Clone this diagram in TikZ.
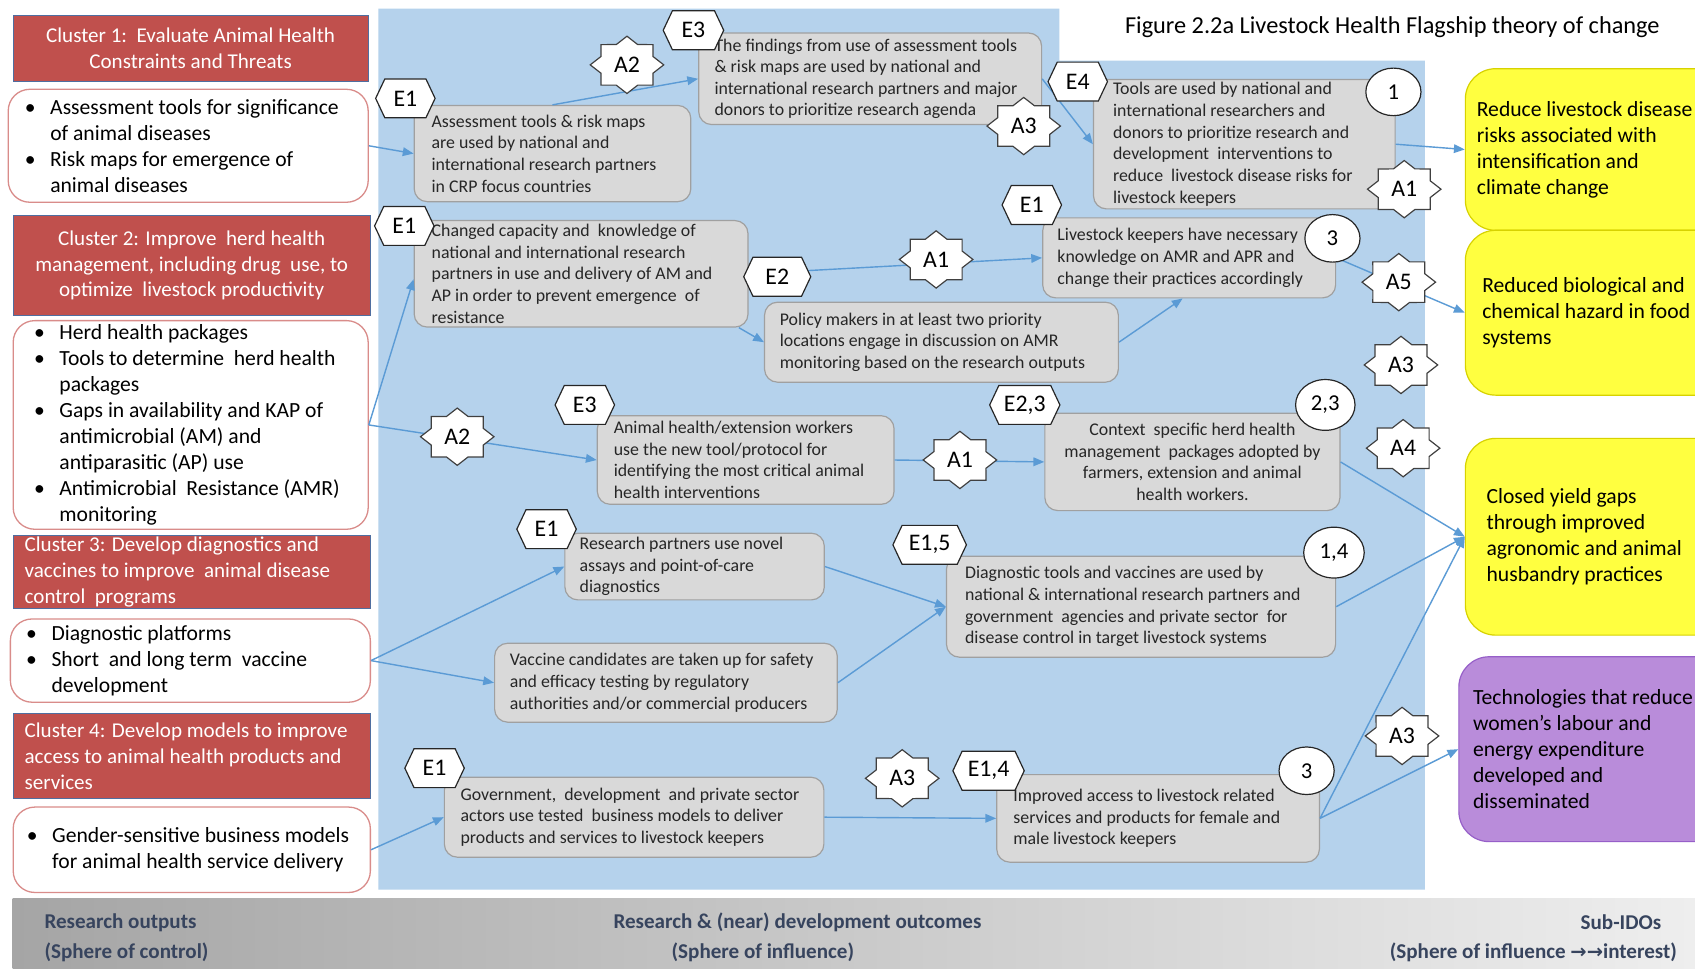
\documentclass[tikz,border=0pt]{standalone}
\usepackage{fontspec}
\setmainfont{Carlito}
\newfontfamily\djvfont{DejaVu Sans}
\usetikzlibrary{arrows.meta,shapes.geometric}

\definecolor{bluebg}{RGB}{181,210,236}
\definecolor{redhdr}{RGB}{192,80,77}
\definecolor{hdrborder}{RGB}{79,110,160}
\definecolor{pinkborder}{RGB}{217,140,138}
\definecolor{grayfill}{RGB}{217,217,217}
\definecolor{grayborder}{RGB}{160,160,160}
\definecolor{yell}{RGB}{255,255,64}
\definecolor{yellborder}{RGB}{215,210,0}
\definecolor{purp}{RGB}{185,140,218}
\definecolor{purpborder}{RGB}{150,95,200}
\definecolor{arrowblue}{RGB}{91,155,213}
\definecolor{bandtext}{RGB}{55,68,94}
\definecolor{bandA}{RGB}{165,165,165}
\definecolor{bandB}{RGB}{238,238,238}

% box with left-aligned text: style, name, x0, y0, x1, y1, text style, text offset, text
\newcommand\BoxL[9]{%
  \node[#1, anchor=north west, minimum width={(#5)-(#3)}, minimum height={(#6)-(#4)}] (#2) at (#3,#4) {};
  \node[#7, anchor=west] (#2t) at ([xshift=#8]#2.west) {#9};}
% box with centred text: style, name, x0, y0, x1, y1, text style, text
\newcommand\BoxC[8]{%
  \node[#1, anchor=north west, minimum width={(#5)-(#3)}, minimum height={(#6)-(#4)}] (#2) at (#3,#4) {};
  \node[#7] (#2t) at (#2.center) {#8};}
% hexagon label: name, x, y, width, text
\newcommand\EHex[5]{%
  \path[hexsty] ({#2-#4/2},#3) -- ++(8.5,-18) -- ++({#4-17},0) -- ++(8.5,18) -- ++(-8.5,18) -- ++({17-#4},0) -- cycle;
  \node[labtext] (#1) at (#2,#3) {#5};}
% star label: name, x, y, text
\newcommand\AStar[4]{%
  \begin{scope}[shift={(#2,#3)}]
  \path[starsty] (0:34pt and 26.5pt) -- (22.5:26pt and 20.3pt) -- (45:34pt and 26.5pt) -- (67.5:26pt and 20.3pt)
   -- (90:34pt and 26.5pt) -- (112.5:26pt and 20.3pt) -- (135:34pt and 26.5pt) -- (157.5:26pt and 20.3pt)
   -- (180:34pt and 26.5pt) -- (202.5:26pt and 20.3pt) -- (225:34pt and 26.5pt) -- (247.5:26pt and 20.3pt)
   -- (270:34pt and 26.5pt) -- (292.5:26pt and 20.3pt) -- (315:34pt and 26.5pt) -- (337.5:26pt and 20.3pt) -- cycle;
  \end{scope}
  \node[labtext] (#1) at (#2,#3) {#4};}
\newcommand\BulI{\makebox[23.5pt][l]{\textbullet}}
\newcommand\BulC{\hspace*{23.5pt}}

\begin{document}
\begin{tikzpicture}[x=1pt,y=-1pt,
  hdr/.style={fill=redhdr, draw=hdrborder, line width=1pt, inner sep=0},
  wbox/.style={fill=white, draw=pinkborder, line width=1.2pt, rounded corners=20pt, inner sep=0},
  gboxsty/.style={fill=grayfill, draw=grayborder, line width=1.1pt, rounded corners=12pt, inner sep=0},
  ybox/.style={fill=yell, draw=yellborder, line width=1.1pt, rounded corners=28pt, inner sep=0},
  pbox/.style={fill=purp, draw=purpborder, line width=1.1pt, rounded corners=28pt, inner sep=0},
  hdrtext/.style={inner sep=0, align=center, text=white, font=\fontsize{19.5}{24}\selectfont},
  hdrtextl/.style={inner sep=0, align=left, text=white, font=\fontsize{19.5}{24}\selectfont},
  btext/.style={inner sep=0, align=left, text=black, font=\fontsize{20}{24}\selectfont},
  gtext/.style={inner sep=0, align=left, text=black!85, font=\fontsize{16.5}{20}\selectfont},
  gtextc/.style={gtext, align=center},
  labtext/.style={inner sep=0, text=black, font=\fontsize{22}{24}\selectfont},
  hexsty/.style={fill=white, draw=black!85, line width=1.1pt, line join=miter},
  starsty/.style={fill=white, draw=black!75, line width=1.1pt},
  circ/.style={ellipse, fill=white, draw=black!85, line width=1.1pt, minimum width=51pt, minimum height=44pt, inner sep=0, font=\fontsize{21}{24}\selectfont},
  conn/.style={draw=arrowblue, line width=1.3pt, -{Triangle[length=10pt,width=8pt]}},
  bandtxt/.style={inner sep=0, text=bandtext, font=\bfseries\fontsize{19.5}{24}\selectfont}
]
\useasboundingbox (0,0) rectangle (1568,896);
\fill[white] (0,0) rectangle (1568,896);

% backgrounds
\fill[bluebg] (350,8) -- (980,8) -- (980,56) -- (1318,56) -- (1318,823) -- (350,823) -- cycle;
\shade[left color=bandA, right color=bandB] (11.6,831) rectangle (1568,896);

% title
\node[inner sep=0, font=\fontsize{22.5}{26}\selectfont] (title) at (1288,25) {Figure 2.2a Livestock Health Flagship theory of change};

% bottom band texts
\node[bandtxt, anchor=west] (ro1) at (41,853.5) {Research outputs};
\node[bandtxt, anchor=west] (ro2) at (41,881) {(Sphere of control)};
\node[bandtxt] (rd1) at (737.7,853.5) {Research \& (near) development outcomes};
\node[bandtxt] (rd2) at (705.7,881) {(Sphere of influence)};
\node[bandtxt, anchor=east] (si1) at (1537,853.5) {Sub-IDOs};
\node[bandtxt, anchor=east] (si2) at (1551.5,881) {(Sphere of influence {\djvfont\bfseries\fontsize{18}{20}\selectfont →→}interest)};

% left column
\BoxC{hdr}{h1}{11.6}{14}{340}{74.6}{hdrtext}{Cluster 1:\ \ Evaluate Animal Health\\Constraints and Threats}
\BoxL{wbox}{b1}{7}{82}{340}{186.5}{btext}{15.8}{\BulI Assessment tools for significance\\\BulC of animal diseases\\\BulI Risk maps for emergence of\\\BulC animal diseases}
\BoxC{hdr}{h2}{11.6}{199}{342}{291}{hdrtext}{Cluster 2: Improve\ \ herd health\\management, including drug\ \ use, to\\optimize\ \ livestock productivity}
\BoxL{wbox}{b2}{11.6}{296}{340}{489}{btext}{19.7}{\BulI Herd health packages\\\BulI Tools to determine\ \ herd health\\\BulC packages\\\BulI Gaps in availability and KAP of\\\BulC antimicrobial (AM) and\\\BulC antiparasitic (AP) use\\\BulI Antimicrobial\ \ Resistance (AMR)\\\BulC monitoring}
\BoxL{hdr}{h3}{11.6}{495}{342}{562}{hdrtextl}{11}{Cluster 3: Develop diagnostics and\\vaccines to improve\ \ animal disease\\control\ \ programs}
\BoxL{wbox}{b3}{9}{572}{342}{649}{btext}{15}{\BulI Diagnostic platforms\\\BulI Short\ \ and long term\ \ vaccine\\\BulC development}
\BoxL{hdr}{h4}{11.6}{659.7}{342}{738}{hdrtextl}{11}{Cluster 4: Develop models to improve\\access to animal health products and\\services}
\BoxL{wbox}{b4}{11.6}{746}{342}{825}{btext}{13}{\BulI Gender-sensitive business models\\\BulC for animal health service delivery}

% outcome boxes
\BoxL{gboxsty}{g1}{382.6}{97}{638.5}{186}{gtext}{16.5}{Assessment tools \& risk maps\\are used by national and\\international research partners\\in CRP focus countries}
\BoxL{gboxsty}{g2}{645.8}{30}{963}{114.7}{gtext}{15}{The findings from use of assessment tools\\\& risk maps are used by national and\\international research partners and major\\donors to prioritize research agenda}
\BoxL{gboxsty}{g3}{1011}{73}{1290}{192.7}{gtext}{18.5}{Tools are used by national and\\international researchers and\\donors to prioritize research and\\development\ \ interventions to\\reduce\ \ livestock disease risks for\\livestock keepers}
\BoxL{gboxsty}{g4}{382.6}{203.5}{691.4}{302}{gtext}{16.5}{Changed capacity and\ \ knowledge of\\national and international research\\partners in use and delivery of AM and\\AP in order to prevent emergence\ \ of\\resistance}
\BoxL{gboxsty}{g6}{964}{201}{1235}{275}{gtext}{14}{Livestock keepers have necessary\\knowledge on AMR and APR and\\change their practices accordingly}
\BoxL{gboxsty}{g7}{706.7}{279}{1034}{353}{gtext}{14.5}{Policy makers in at least two priority\\locations engage in discussion on AMR\\monitoring based on the research outputs}
\BoxL{gboxsty}{g5}{552}{384}{826.5}{466}{gtext}{15.6}{Animal health/extension workers\\use the new tool/protocol for\\identifying the most critical animal\\health interventions}
\BoxC{gboxsty}{g8}{966}{381.7}{1239}{471.8}{gtextc}{Context\ \ specific herd health\\management\ \ packages adopted by\\farmers, extension and animal\\health workers.}
\BoxL{gboxsty}{g9}{522}{492.7}{762}{554.4}{gtext}{14}{Research partners use novel\\assays and point-of-care\\diagnostics}
\BoxL{gboxsty}{g11}{875}{514}{1235}{607.4}{gtext}{17.6}{Diagnostic tools and vaccines are used by\\national \& international research partners and\\government\ \ agencies and private sector\ \ for\\disease control in target livestock systems}
\BoxL{gboxsty}{g10}{457}{594.5}{774}{667.5}{gtext}{14.4}{Vaccine candidates are taken up for safety\\and efficacy testing by regulatory\\authorities and/or commercial producers}
\BoxL{gboxsty}{g12}{410.5}{718.4}{761.6}{792.4}{gtext}{15.4}{Government,\ \ development\ \ and private sector\\actors use tested\ \ business models to deliver\\products and services to livestock keepers}
\BoxL{gboxsty}{g13}{921.5}{716}{1220}{797}{gtext}{15.8}{Improved access to livestock related\\services and products for female and\\male livestock keepers}

% sub-IDO boxes
\BoxL{ybox}{y1}{1355}{63}{1610}{212.5}{btext}{11}{Reduce livestock disease\\risks associated with\\intensification and\\climate change}
\BoxL{ybox}{y2}{1355}{212.5}{1610}{365}{btext}{16}{Reduced biological and\\chemical hazard in food\\systems}
\BoxL{ybox}{y3}{1355}{405}{1610}{587}{btext}{20}{Closed yield gaps\\through improved\\agronomic and animal\\husbandry practices}
\BoxL{pbox}{pp}{1349}{607}{1610}{778}{btext}{13.5}{Technologies that reduce\\women’s labour and\\energy expenditure\\developed and\\disseminated}

% connectors
\draw[conn] (b1.east) -- (g1.west);
\draw[conn] (g1.north) -- (g2.west);
\draw[conn] (g2.east) -- (g3.west);
\draw[conn] (g3.east) -- (y1.west);
\draw[conn] (b2.east) -- ([yshift=-5pt]g4.west);
\draw[conn] (b2.east) -- (g5.west);
\draw[conn] (g4.east) -- (g6.west);
\draw[conn] ([xshift=-9pt]g4.south east) -- (g7.west);
\draw[conn] (g7.east) -- ([xshift=-6pt]g6.south);
\draw[conn] (g6.east) -- (y2.west);
\draw[conn] (g5.east) -- (g8.west);
\draw[conn] (g8.east) -- (y3.west);
\draw[conn] (b3.east) -- (g9.west);
\draw[conn] (b3.east) -- (g10.west);
\draw[conn] (g9.east) -- (g11.west);
\draw[conn] (g10.east) -- (g11.west);
\draw[conn] (g11.east) -- (y3.west);
\draw[conn] (b4.east) -- (g12.west);
\draw[conn] (g12.east) -- (g13.west);
\draw[conn] (g13.east) -- (y3.west);
\draw[conn] (g13.east) -- (pp.west);

% evidence hexagons
\EHex{e1a}{375}{91}{55}{E1}
\EHex{e3a}{641.5}{28}{56}{E3}
\EHex{e4}{997}{75.5}{55}{E4}
\EHex{e1b}{374}{209}{55}{E1}
\EHex{e2}{719}{256}{62}{E2}
\EHex{e1c}{954.5}{189.6}{55}{E1}
\EHex{e3b}{541}{374.6}{55}{E3}
\EHex{e23}{948}{374.6}{65}{E2,3}
\EHex{e1d}{505.6}{489.5}{55}{E1}
\EHex{e15}{860}{504}{68}{E1,5}
\EHex{e1e}{402}{710.6}{55}{E1}
\EHex{e14}{914.5}{713}{66}{E1,4}

% assumption stars
\AStar{a2a}{580}{60}{A2}
\AStar{a3a}{947}{116.6}{A3}
\AStar{a1a}{1299}{175}{A1}
\AStar{a1b}{866}{240}{A1}
\AStar{a5}{1294}{261}{A5}
\AStar{a3b}{1296}{337.6}{A3}
\AStar{a2b}{423}{404}{A2}
\AStar{a1c}{888}{425.5}{A1}
\AStar{a4}{1298}{414.6}{A4}
\AStar{a3c}{834.6}{720}{A3}
\AStar{a3d}{1297}{680.8}{A3}

% sub-IDO number circles
\node[circ] (c1) at (1289,85) {1};
\node[circ] (c3a) at (1232.6,220.5) {3};
\node[circ, minimum width=55pt, minimum height=47pt] (c23) at (1226,374.6) {2,3};
\node[circ, minimum width=56pt, minimum height=47pt] (c14) at (1234,511.2) {1,4};
\node[circ] (c3b) at (1208.7,713) {3};
\end{tikzpicture}
\end{document}
